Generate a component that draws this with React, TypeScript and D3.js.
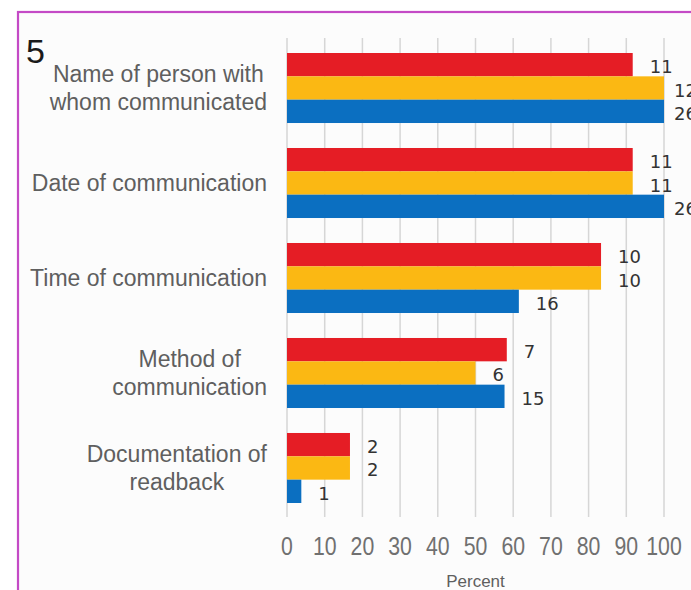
import React, { useMemo } from "react";
import * as d3 from "d3";

const categories = [
  "Name of person with\nwhom communicated",
  "Date of communication",
  "Time of communication",
  "Method of\ncommunication",
  "Documentation of\nreadback",
];
const seriesKeys = ["red", "yellow", "blue"];
const redPercent = [91.7, 91.7, 83.3, 58.3, 16.7];
const yellowPercent = [100, 91.7, 83.3, 50, 16.7];
const bluePercent = [100, 100, 61.5, 57.7, 3.8];
const redCounts = [11, 11, 10, 7, 2];
const yellowCounts = [12, 11, 10, 6, 2];
const blueCounts = [26, 26, 16, 15, 1];
const xTicks = [0, 10, 20, 30, 40, 50, 60, 70, 80, 90, 100];
const panelLabel = "5";
const xAxisTitle = "Percent";

const colors: Record<string, string> = {
  red: "#e51d25",
  yellow: "#fbb813",
  blue: "#0b6fc1",
};

const W = 691;
const H = 590;
const catFont = "23px 'Liberation Sans', Arial, sans-serif";

function measure(text: string, font: string): number {
  const c = document.createElement("canvas");
  const ctx = c.getContext("2d");
  if (!ctx) return text.length * 11;
  ctx.font = font;
  return ctx.measureText(text).width;
}

export default function App() {
  const x = d3.scaleLinear().domain([0, 100]).range([287, 664]);
  const y = d3
    .scaleBand<string>()
    .domain(categories)
    .range([40.5, 515.5])
    .paddingInner(0.263)
    .paddingOuter(0.1316);
  const inner = d3
    .scaleBand<string>()
    .domain(seriesKeys)
    .range([0, y.bandwidth()]);

  const percents: Record<string, number[]> = {
    red: redPercent,
    yellow: yellowPercent,
    blue: bluePercent,
  };
  const counts: Record<string, number[]> = {
    red: redCounts,
    yellow: yellowCounts,
    blue: blueCounts,
  };

  const catLayout = useMemo(
    () =>
      categories.map((c) => {
        const lines = c.split("\n");
        const w = Math.max(...lines.map((l) => measure(l, catFont)));
        return { lines, w };
      }),
    []
  );

  const labelRight = 267;
  const lineH = 28;
  const [r0, r1] = y.range();

  return (
    <svg
      width={W}
      height={H}
      style={{ position: "absolute", left: 0, top: 0, background: "#ffffff" }}
    >
      <rect
        x={18}
        y={12}
        width={720}
        height={640}
        fill="#fcfcfc"
        stroke="#c44ac6"
        strokeWidth={2.2}
      />
      <text
        x={26}
        y={63}
        fontFamily="'Liberation Sans', Arial, sans-serif"
        fontSize={34}
        fill="#1a1a1a"
      >
        {panelLabel}
      </text>

      {xTicks.map((t) => (
        <line
          key={"g" + t}
          x1={x(t)}
          x2={x(t)}
          y1={r0 - 2.5}
          y2={r1 + 1.5}
          stroke="#d6d6d6"
          strokeWidth={1.5}
        />
      ))}

      {categories.map((c, i) => {
        const y0 = y(c) as number;
        const center = y0 + y.bandwidth() / 2;
        const { lines, w } = catLayout[i];
        const cx = labelRight - w / 2;
        const n = lines.length;
        return (
          <g key={c}>
            {lines.map((l, j) => (
              <text
                key={j}
                x={cx}
                y={center + (j - (n - 1) / 2) * lineH + 8.3}
                textAnchor="middle"
                fontFamily="'Liberation Sans', Arial, sans-serif"
                fontSize={23}
                fill="#5f5f5f"
              >
                {l}
              </text>
            ))}
            {seriesKeys.map((k) => {
              const v = percents[k][i];
              const by = y0 + (inner(k) as number);
              const bh = inner.bandwidth();
              const off = v >= 100 ? 10 : 17;
              return (
                <g key={k}>
                  <rect
                    x={x(0)}
                    y={by}
                    width={x(v) - x(0)}
                    height={bh}
                    fill={colors[k]}
                  />
                  <text
                    x={x(v) + off}
                    y={by + bh / 2 + 8.5}
                    fontFamily="'DejaVu Sans', sans-serif"
                    fontSize={18}
                    fill="#333333"
                  >
                    {counts[k][i]}
                  </text>
                </g>
              );
            })}
          </g>
        );
      })}

      {xTicks.map((t) => (
        <text
          key={"t" + t}
          transform={`translate(${x(t)},555) scale(0.85,1)`}
          textAnchor="middle"
          fontFamily="'Liberation Sans', Arial, sans-serif"
          fontSize={25}
          fill="#707070"
        >
          {t}
        </text>
      ))}
      <text
        x={x(50)}
        y={587}
        textAnchor="middle"
        fontFamily="'Liberation Sans', Arial, sans-serif"
        fontSize={17}
        fill="#5f5f5f"
      >
        {xAxisTitle}
      </text>
    </svg>
  );
}
